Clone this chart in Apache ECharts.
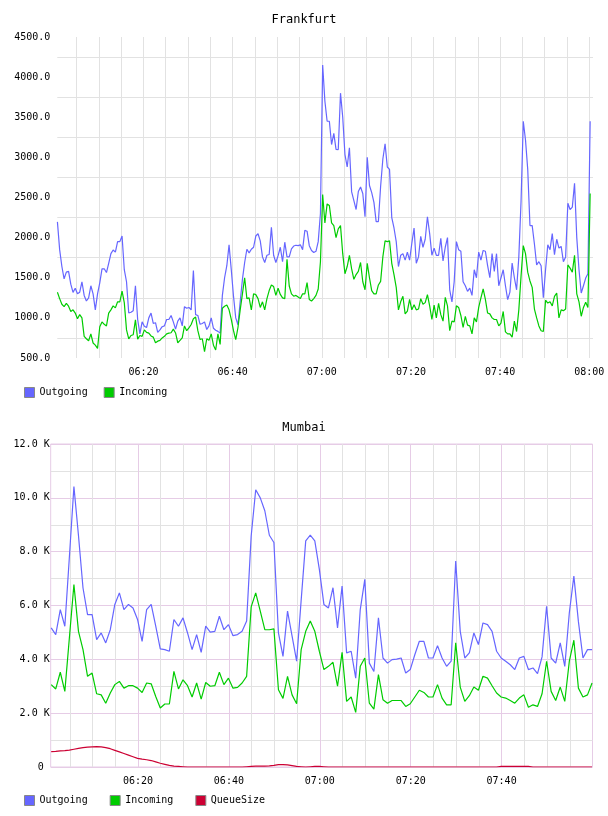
<!DOCTYPE html>
<html>
<head>
<meta charset="utf-8">
<title>Frankfurt / Mumbai</title>
<script src="https://cdn.jsdelivr.net/npm/echarts@6/dist/echarts.min.js"></script>
<style>
  html, body { margin: 0; padding: 0; background: #fff; }
  #main { width: 608px; height: 816px; }
</style>
</head>
<body>
<div id="main"></div>
<script>
// time values are minutes after midnight
var fraStart = 360.7, fraStep = 0.5;
var fraOutgoing = [
  2196,1850,1640,1487,1570,1580,1420,1318,1370,1300,
  1320,1450,1280,1210,1250,1400,1300,1100,1300,1437,
  1610,1612,1565,1680,1800,1846,1820,1950,1950,2020,
  1600,1450,1060,1070,1090,1400,980,800,950,896,
  880,1000,1060,930,940,820,850,890,900,980,
  980,1030,950,860,960,1000,900,1140,1120,1130,
  1100,1590,1040,1030,920,930,950,855,900,1000,
  870,845,832,810,1280,1500,1650,1910,1600,1270,
  1000,914,1200,1480,1690,1855,1810,1855,1880,2020,
  2048,1960,1760,1690,1780,1790,2130,1780,1690,1775,
  1880,1700,1943,1760,1760,1860,1895,1905,1900,1910,
  1850,2090,2080,1900,1840,1815,1830,1950,2300,4150,
  3700,3450,3450,3160,3300,3100,3097,3800,3500,3035,
  2880,3120,2570,2460,2350,2575,2630,2550,2260,3000,
  2650,2560,2440,2200,2200,2640,2980,3170,2880,2850,
  2250,2120,1950,1640,1780,1800,1720,1820,1720,1930,
  2120,1680,1760,2016,1880,1980,2260,2050,1780,1870,
  1780,1780,1990,1710,1880,2000,1350,1200,1450,1950,
  1850,1830,1450,1400,1330,1370,1280,1600,1500,1820,
  1720,1840,1830,1650,1500,1800,1580,1800,1400,1500,
  1600,1400,1227,1320,1683,1500,1350,1760,2450,3450,
  3217,2850,2150,2150,1920,1660,1700,1650,1250,1600,
  1910,1850,2050,1787,1980,1870,1890,1700,1760,2429,
  2350,2380,2678,2000,1600,1310,1400,1496,1550,3450
];
var fraIncoming = [
  1320,1240,1170,1140,1180,1146,1080,1100,1060,990,
  1040,1000,770,740,715,800,687,660,620,890,
  950,920,900,1060,1100,1150,1125,1200,1200,1333,
  1190,850,738,780,790,975,735,780,770,850,
  820,810,775,760,690,710,720,750,770,800,
  810,815,860,812,690,720,750,900,840,875,
  917,990,1010,840,730,740,580,740,720,800,
  660,600,800,670,1120,1145,1160,1100,980,840,
  730,880,1100,1300,1500,1240,1250,1100,1300,1290,
  1240,1130,1200,1100,1240,1340,1410,1390,1280,1370,
  1292,1250,1240,1730,1397,1300,1270,1280,1260,1240,
  1300,1300,1440,1229,1210,1240,1280,1360,1700,2536,
  2183,2420,2400,2183,2150,2000,2110,2150,1800,1550,
  1640,1780,1610,1480,1540,1580,1690,1450,1350,1680,
  1500,1340,1300,1300,1410,1455,1760,1960,1950,1960,
  1680,1540,1380,1100,1200,1270,1050,1085,1230,1100,
  1164,1100,1110,1240,1170,1190,1289,1150,980,1160,
  1000,1180,1040,960,1255,1150,840,960,950,1150,
  1130,1030,880,1019,910,900,800,1000,950,1130,
  1248,1360,1230,1060,1050,1000,980,980,900,936,
  1080,825,800,800,760,960,830,1100,1520,1900,
  1800,1570,1460,1380,1110,1000,900,840,830,1220,
  1185,1200,1150,1268,1310,1000,1100,1090,1110,1660,
  1620,1570,1780,1300,1200,1020,1130,1195,1130,2550
];

var mumStart = 360.9, mumStep = 1;
var mumOutgoing = [
  5170,4920,5850,5230,7800,10420,8600,6650,5660,5660,
  4730,4980,4610,5100,6040,6470,5850,6040,5910,5480,
  4670,5850,6040,5230,4390,4360,4300,5480,5230,5540,
  4980,4360,4920,4260,5230,5010,5040,5600,5100,5290,
  4880,4920,5040,5420,8580,10300,10000,9520,8610,8340,
  4980,4110,5790,4860,3930,6200,8400,8610,8400,7340,
  6040,5910,6660,5170,6720,4240,4300,3300,5850,6970,
  3860,3550,5540,4050,3860,3990,4010,4050,3490,3620,
  4170,4670,4670,4050,4050,4510,4050,3740,3930,7650,
  5040,4050,4240,4980,4550,5350,5290,5040,4300,4050,
  3930,3800,3620,4050,4110,3620,3680,3470,4090,5970,
  4050,3860,4610,3740,5730,7090,5400,4050,4360,4360
];
var mumIncoming = [
  3060,2900,3520,2810,4800,6780,5040,4360,3370,3490,
  2720,2680,2370,2750,3060,3180,2930,3020,3020,2930,
  2770,3120,3090,2620,2190,2340,2340,3550,2900,3240,
  3020,2600,3120,2520,3140,3000,3020,3520,3060,3300,
  2930,2960,3120,3370,5950,6470,5790,5100,5100,5130,
  2870,2550,3370,2680,2350,4360,5040,5420,5040,4300,
  3620,3740,3890,3000,4260,2440,2600,2030,3740,4050,
  2370,2150,3430,2500,2370,2470,2470,2470,2250,2350,
  2600,2850,2770,2600,2600,3060,2560,2310,2310,4610,
  2970,2440,2650,2970,2850,3370,3300,3020,2750,2600,
  2560,2470,2370,2560,2680,2220,2310,2250,2720,3930,
  2810,2470,2970,2440,3930,4710,2930,2600,2680,3120
];
var mumQueue = [
  570,580,600,610,630,660,690,720,740,750,
  760,750,720,680,620,560,500,440,380,320,
  290,270,240,190,140,100,60,30,20,10,
  0,0,0,0,0,0,0,0,0,0,
  0,0,0,10,20,30,30,30,40,60,
  90,90,80,50,20,10,0,10,20,20,
  10,0,0,0,0,0,0,0,0,0,
  0,0,0,0,0,0,0,0,0,0,
  0,0,0,0,0,0,0,0,0,0,
  0,0,0,0,0,0,0,0,0,20,
  20,20,20,20,20,20,0,0,0,0,
  0,0,0,0,0,0,0,0,0,0
];

var colOut = '#6666ff', colIn = '#00cc00', colQueue = '#cc0033';
var mono = 'DejaVu Sans Mono';
var greyLine = '#e2e2e2';
var pinkLine = '#e6cce6';

function pairs(start, step, vals) {
  return vals.map(function (v, i) { return [start + i * step, v]; });
}
function pad(n) { return (n < 10 ? '0' : '') + n; }
function hhmm(v) {
  var m = Math.round(v);
  return pad(Math.floor(m / 60)) + ':' + pad(m % 60);
}
function timeLabel(last) {
  return function (v) {
    var m = Math.round(v);
    if (Math.abs(v - m) > 0.01 || m % 20 !== 0 || m <= 360 || m > last) return '';
    return hhmm(m);
  };
}

var lbl = { fontFamily: mono, fontSize: 10, color: '#000' };

var chart = echarts.init(document.getElementById('main'), null, { renderer: 'canvas' });
chart.setOption({
  animation: false,
  backgroundColor: '#fff',
  title: [
    { text: 'Frankfurt', left: 'center', top: 14, padding: 0,
      textStyle: { fontFamily: mono, fontSize: 12, fontWeight: 'normal', color: '#000' } },
    { text: 'Mumbai', left: 'center', top: 422, padding: 0,
      textStyle: { fontFamily: mono, fontSize: 12, fontWeight: 'normal', color: '#000' } }
  ],
  legend: [
    { data: ['Outgoing', 'Incoming'], left: 24, top: 387, padding: 0,
      itemWidth: 10, itemHeight: 10, itemGap: 16, icon: 'rect',
      itemStyle: { borderColor: '#888', borderWidth: 1 },
      textStyle: lbl, selectedMode: false },
    { data: ['Outgoing', 'Incoming', 'QueueSize'], left: 24, top: 795, padding: 0,
      itemWidth: 10, itemHeight: 10, itemGap: 22, icon: 'rect',
      itemStyle: { borderColor: '#888', borderWidth: 1 },
      textStyle: lbl, selectedMode: false }
  ],
  grid: [
    { left: 57.3, top: 37, width: 535.7, height: 321 },
    { left: 54.3, top: 37, width: 538.7, height: 321 },
    { left: 50.7, top: 444, width: 541.8, height: 323, show: true,
      borderColor: pinkLine, borderWidth: 1, backgroundColor: 'transparent' },
    { left: 47.1, top: 444, width: 545.4, height: 323 }
  ],
  xAxis: [
    { gridIndex: 0, type: 'value', min: 360.673, max: 480.84, show: false },
    { gridIndex: 1, type: 'value', min: 360, max: 480.84, interval: 20,
      axisLine: { show: false }, axisTick: { show: false },
      axisLabel: Object.assign({ margin: 9, formatter: timeLabel(480) }, lbl),
      splitLine: { show: true, showMinLine: false, showMaxLine: false,
        lineStyle: { color: greyLine, width: 1 } },
      minorTick: { show: false, splitNumber: 4 },
      minorSplitLine: { show: true, lineStyle: { color: greyLine, width: 1 } } },
    { gridIndex: 2, type: 'value', min: 360.79, max: 480, show: false },
    { gridIndex: 3, type: 'value', min: 360, max: 480, interval: 20,
      axisLine: { show: false }, axisTick: { show: false },
      axisLabel: Object.assign({ margin: 9, formatter: timeLabel(470) }, lbl),
      splitLine: { show: true, showMinLine: false, showMaxLine: false,
        lineStyle: { color: pinkLine, width: 1 } },
      minorTick: { show: false, splitNumber: 4 },
      minorSplitLine: { show: true, lineStyle: { color: greyLine, width: 1 } } }
  ],
  yAxis: [
    { gridIndex: 0, type: 'value', min: 500, max: 4500, interval: 500,
      axisLine: { show: false }, axisTick: { show: false },
      axisLabel: Object.assign({ margin: 7, formatter: function (v) { return v.toFixed(1); } }, lbl),
      splitLine: { show: false },
      minorTick: { show: false, splitNumber: 2 },
      minorSplitLine: { show: true, lineStyle: { color: greyLine, width: 1 } } },
    { gridIndex: 1, type: 'value', min: 0, max: 1, show: false },
    { gridIndex: 2, type: 'value', min: 0, max: 12000, interval: 2000,
      axisLine: { show: false }, axisTick: { show: false },
      axisLabel: Object.assign({ margin: 1, formatter: function (v) {
        return v === 0 ? '0 ' : (v / 1000).toFixed(1) + ' K'; } }, lbl),
      splitLine: { show: true, lineStyle: { color: pinkLine, width: 1 } },
      minorTick: { show: false, splitNumber: 2 },
      minorSplitLine: { show: true, lineStyle: { color: greyLine, width: 1 } } },
    { gridIndex: 3, type: 'value', min: 0, max: 1, show: false }
  ],
  series: [
    { name: 'Outgoing', type: 'line', xAxisIndex: 0, yAxisIndex: 0,
      data: pairs(fraStart, fraStep, fraOutgoing), showSymbol: false,
      color: colOut, lineStyle: { width: 1.2 } },
    { name: 'Incoming', type: 'line', xAxisIndex: 0, yAxisIndex: 0,
      data: pairs(fraStart, fraStep, fraIncoming), showSymbol: false,
      color: colIn, lineStyle: { width: 1.2 } },
    { name: 'Outgoing', type: 'line', xAxisIndex: 2, yAxisIndex: 2,
      data: pairs(mumStart, mumStep, mumOutgoing), showSymbol: false,
      color: colOut, lineStyle: { width: 1.2 } },
    { name: 'Incoming', type: 'line', xAxisIndex: 2, yAxisIndex: 2,
      data: pairs(mumStart, mumStep, mumIncoming), showSymbol: false,
      color: colIn, lineStyle: { width: 1.2 } },
    { name: 'QueueSize', type: 'line', xAxisIndex: 2, yAxisIndex: 2,
      data: pairs(mumStart, mumStep, mumQueue), showSymbol: false,
      color: colQueue, lineStyle: { width: 1.2 } }
  ]
});
</script>
</body>
</html>
